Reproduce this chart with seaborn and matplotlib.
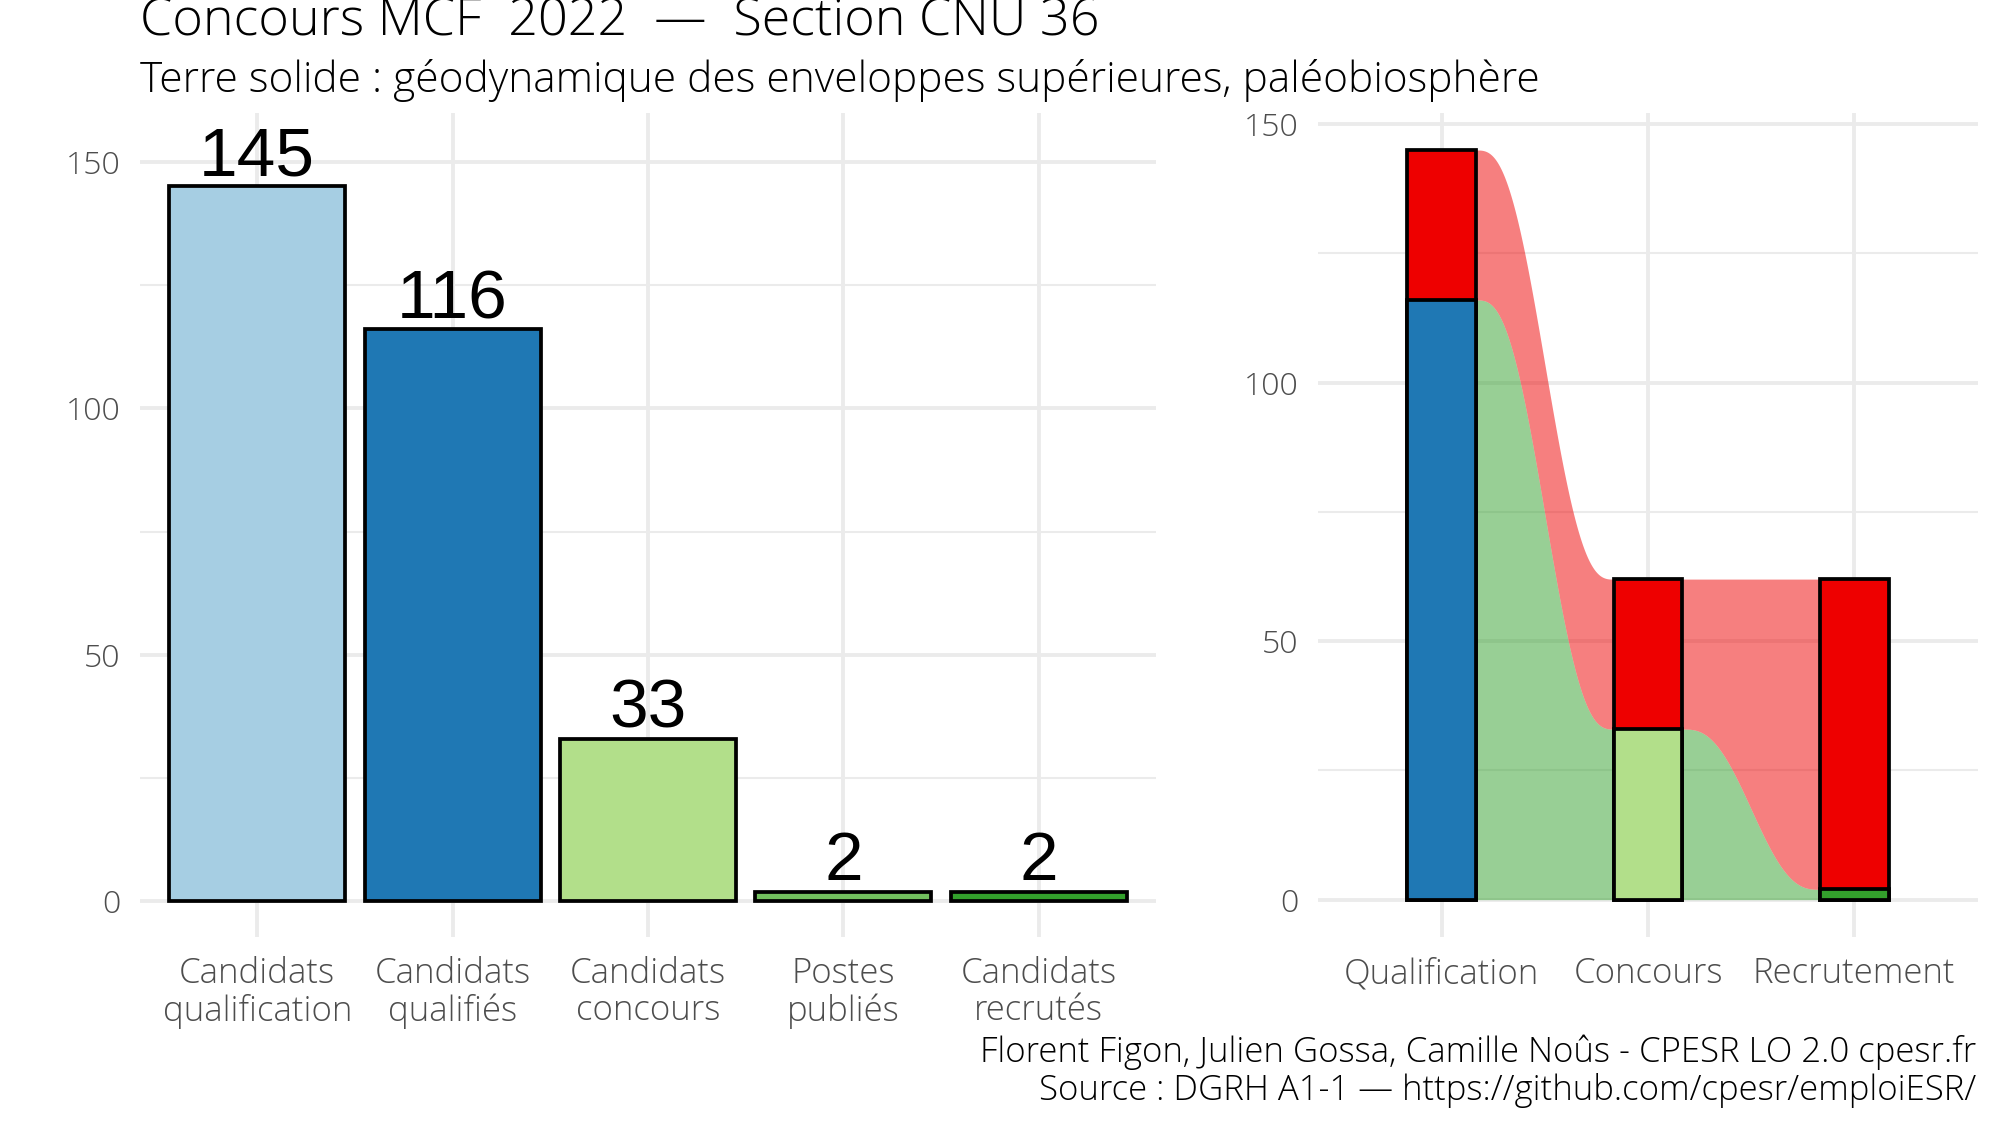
import numpy as np
import pandas as pd
import matplotlib
matplotlib.use("Agg")
import matplotlib.pyplot as plt
from matplotlib import font_manager
import seaborn as sns

# ---------------- data ----------------
bar_categories = ["Candidats\nqualification", "Candidats\nqualifiés", "Candidats\nconcours",
                  "Postes\npubliés", "Candidats\nrecrutés"]
bar_values = [145, 116, 33, 2, 2]
bar_colors = ["#a6cee3", "#1f78b4", "#b2df8a", "#72c05e", "#33a02c"]

stages = ["Qualification", "Concours", "Recrutement"]
stage_success = [116, 33, 2]
stage_failure = [29, 29, 60]
success_colors = ["#1f78b4", "#b2df8a", "#33a02c"]
failure_color = "#ee0000"

title = "Concours MCF  2022  —  Section CNU 36"
subtitle = "Terre solide : géodynamique des enveloppes supérieures, paléobiosphère"
caption = "Florent Figon, Julien Gossa, Camille Noûs - CPESR LO 2.0 cpesr.fr\nSource : DGRH A1-1 — https://github.com/cpesr/emploiESR/"

# ---------------- style ----------------
sns.set_theme(style="white")
installed = {f.name for f in font_manager.fontManager.ttflist}
main_font = "Open Sans" if "Open Sans" in installed else "DejaVu Sans"
num_font = "Liberation Sans Narrow" if "Liberation Sans Narrow" in installed else "Liberation Sans"
plt.rcParams["font.family"] = [main_font, "DejaVu Sans"]
plt.rcParams["font.weight"] = "light"

grid_col = "#ebebeb"
tick_col = "#4d4d4d"

fig = plt.figure(figsize=(20, 11.25), dpi=100)
axL = fig.add_axes([0.070, 0.167, 0.508, 0.733])
axR = fig.add_axes([0.659, 0.167, 0.330, 0.733])

def style_axes(ax, ylim, xlim):
    ax.set_ylim(*ylim)
    ax.set_xlim(*xlim)
    for s in ax.spines.values():
        s.set_visible(False)
    ax.set_axisbelow(True)
    ax.set_yticks([0, 50, 100, 150])
    ax.set_yticks([25, 75, 125], minor=True)
    ax.grid(True, which="major", axis="both", color=grid_col, linewidth=2.8)
    ax.grid(True, which="minor", axis="y", color=grid_col, linewidth=1.5)
    ax.tick_params(axis="both", which="both", length=0, colors=tick_col)
    ax.tick_params(axis="y", pad=14, labelsize=23)
    ax.tick_params(axis="x", pad=14, labelsize=25)
    ax.set_xlabel("")
    ax.set_ylabel("")

# ---------------- left: bars ----------------
dfL = pd.DataFrame({"cat": bar_categories, "val": bar_values})
sns.barplot(data=dfL, x="cat", y="val", hue="cat", palette=bar_colors, legend=False,
            saturation=1, width=0.9, edgecolor="black", linewidth=2.7, ax=axL)
style_axes(axL, (-7.25, 160), (-0.6, len(bar_categories) - 0.4))
for lbl in axL.get_xticklabels():
    lbl.set_linespacing(1.1)
for i, v in enumerate(bar_values):
    axL.annotate(str(v), (i, v), xytext=(0, 8), textcoords="offset points",
                 ha="center", va="baseline", fontsize=50, family=num_font,
                 fontweight="normal", color="black")

# ---------------- right: alluvial ----------------
totals = [s + f for s, f in zip(stage_success, stage_failure)]
dfR = pd.DataFrame({"stage": stages, "total": totals, "success": stage_success})
bw = 1 / 3
sns.barplot(data=dfR, x="stage", y="total", color=failure_color, saturation=1,
            width=bw, edgecolor="black", linewidth=2.7, ax=axR, zorder=3)
sns.barplot(data=dfR, x="stage", y="success", hue="stage", palette=success_colors,
            saturation=1, legend=False, width=bw, edgecolor="black", linewidth=2.7,
            ax=axR, zorder=3)
style_axes(axR, (-7.25, 152.25), (-0.6, len(stages) - 0.4))

def smooth(t):
    return 6 * t**5 - 15 * t**4 + 10 * t**3

for i in range(len(stages) - 1):
    x0, x1 = i + bw / 2, i + 1 - bw / 2
    t = np.linspace(0, 1, 200)
    xs = x0 + (x1 - x0) * t
    s = smooth(t)
    g_top = stage_success[i] + (stage_success[i + 1] - stage_success[i]) * s
    r_top = totals[i] + (totals[i + 1] - totals[i]) * s
    axR.fill_between(xs, 0, g_top, color="#33a02c", alpha=0.5, linewidth=0, zorder=1)
    axR.fill_between(xs, g_top, r_top, color=failure_color, alpha=0.5, linewidth=0, zorder=1)

# ---------------- texts ----------------
fig.text(0.070, 0.968, title, fontsize=37.5, color="black", ha="left", va="baseline")
fig.text(0.070, 0.918, subtitle, fontsize=30.5, color="black", ha="left", va="baseline")
fig.text(0.988, 0.022, caption, fontsize=25, color="black", ha="right", va="baseline",
         linespacing=1.12)

fig.savefig("out.png", dpi=100)
